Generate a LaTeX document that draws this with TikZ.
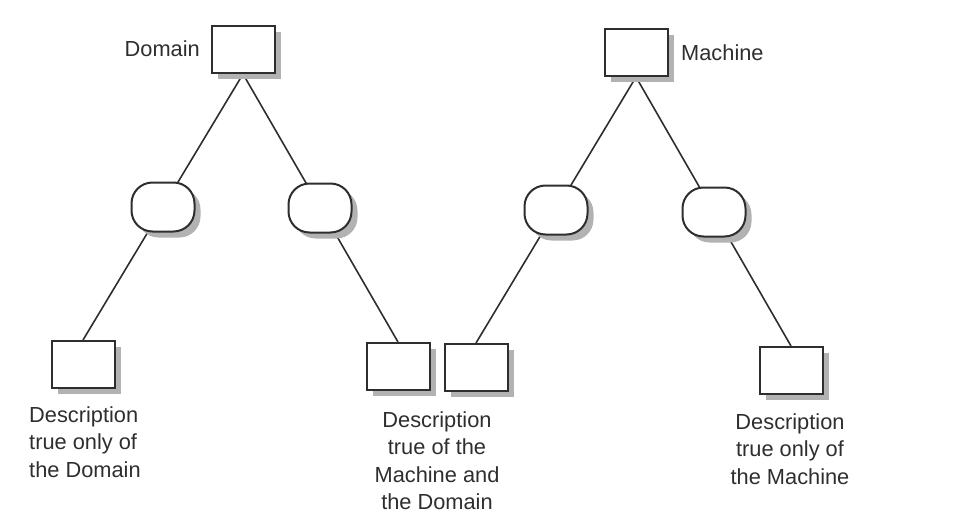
\documentclass[tikz,border=0pt]{standalone}
\usepackage{fontspec}
\setmainfont{Liberation Sans}
\usetikzlibrary{shadows}
\definecolor{ink}{HTML}{2E2E2E}
\begin{document}
\begin{tikzpicture}[x=1pt,y=-1pt,
  shd/.style={drop shadow={shadow xshift=6pt,shadow yshift=-6pt,fill=gray!60,opacity=1}},
  sqbox/.style={draw=ink,line width=2pt,fill=white,minimum width=63pt,minimum height=47pt,inner sep=0pt,shd},
  ovl/.style={draw=ink,line width=2pt,fill=white,rounded corners=21pt,minimum width=63pt,minimum height=49pt,inner sep=0pt,shd},
  conn/.style={draw=ink,line width=1.6pt},
  lbl/.style={text=ink,font=\fontsize{21.8}{27.5}\selectfont,inner sep=0pt}]
\useasboundingbox (0,0) rectangle (979,532);
% lines first (behind)
\coordinate (dA) at (243,74);
\coordinate (mA) at (636,77);
\coordinate (dLt) at (83,340);
\coordinate (dRt) at (398,342);
\coordinate (mLt) at (476,343);
\coordinate (mRt) at (791,346);
\draw[conn] (dA) -- (dLt);
\draw[conn] (dA) -- (dRt);
\draw[conn] (mA) -- (mLt);
\draw[conn] (mA) -- (mRt);
% boxes
\node[sqbox] (dom) at (243,50) {};
\node[sqbox] (mac) at (636,53) {};
\node[ovl] (dlo) at (163,207) {};
\node[ovl] (dro) at (320,208) {};
\node[ovl] (mlo) at (556,210) {};
\node[ovl] (mro) at (714,212) {};
\node[sqbox] (dl) at (83,364) {};
\node[sqbox] (dr) at (398,366) {};
\node[sqbox] (ml) at (476,367) {};
\node[sqbox] (mr) at (791,370) {};
% labels
\node[lbl,anchor=east] (domlbl) at (200,49) {Domain};
\node[lbl,anchor=west] (maclbl) at (681,53) {Machine};
\node[lbl,anchor=north west,align=left] (dltxt) at (29,406) {Description\\true only of\\the Domain};
\node[lbl,anchor=north,align=center] (drtxt) at (437,411) {Description\\true of the\\Machine and\\the Domain};
\node[lbl,anchor=north,align=center] (mrtxt) at (790,413) {Description\\true only of\\the Machine};
\end{tikzpicture}
\end{document}
